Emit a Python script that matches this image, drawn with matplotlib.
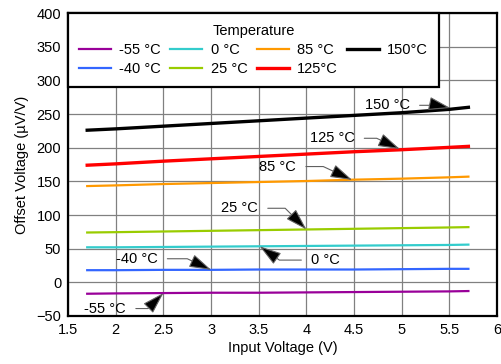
import matplotlib.pyplot as plt

plt.rcParams['font.family'] = ['Liberation Sans', 'DejaVu Sans']

vin = [1.7, 2.0, 2.5, 3.0, 3.5, 4.0, 4.5, 5.0, 5.5, 5.7]

temps = ['-55 °C', '-40 °C', '0 °C', '25 °C', '85 °C', '125°C', '150°C']
off_m55 = [-17, -16.5, -16, -15.5, -15.5, -15, -14.5, -14, -13.5, -13]
off_m40 = [18, 18, 18.5, 18.5, 19, 19, 19, 19.5, 20, 20]
off_0 = [52, 52, 52.5, 53, 53.5, 54, 54.5, 55, 55.5, 56]
off_25 = [74, 74.5, 75.5, 76.5, 77.5, 78.5, 79.5, 80.5, 81.5, 82]
off_85 = [143, 144, 146, 147.5, 149, 150.5, 152.5, 154, 156, 157]
off_125 = [174, 176, 180, 183.5, 187, 190.5, 194, 197, 200.5, 202]
off_150 = [226, 228, 232, 236, 240, 244, 248, 252, 257, 260]

series = [off_m55, off_m40, off_0, off_25, off_85, off_125, off_150]
colors = ['#990099', '#3366FF', '#33CCCC', '#99CC00', '#FF9900', '#FF0000', '#000000']
widths = [1.6, 1.6, 1.6, 1.6, 1.6, 2.4, 2.4]

fig = plt.figure(figsize=(5.01, 3.64), dpi=100)
ax = fig.add_axes([0.136, 0.132, 0.856, 0.832])

for lab, y, c, w in zip(temps, series, colors, widths):
    ax.plot(vin, y, color=c, lw=w, label=lab)

ax.set_xlim(1.5, 6)
ax.set_ylim(-50, 400)
ax.set_xticks([1.5, 2, 2.5, 3, 3.5, 4, 4.5, 5, 5.5, 6])
ax.set_xticklabels(['1.5', '2', '2.5', '3', '3.5', '4', '4.5', '5', '5.5', '6'])
ax.set_yticks(range(-50, 401, 50))
ax.grid(True, color='#808080', lw=0.9)
ax.tick_params(length=0, labelsize=10.5, pad=5)
for s in ax.spines.values():
    s.set_linewidth(1.6)
ax.set_xlabel('Input Voltage (V)', fontsize=10.5, labelpad=3)
ax.set_ylabel('Offset Voltage (µV/V)', fontsize=10.5, labelpad=5)

leg = ax.legend(title='Temperature', ncol=4, loc='upper left', bbox_to_anchor=(0, 1),
                borderaxespad=0, fontsize=10.5, title_fontsize=10.5, fancybox=False,
                framealpha=1, edgecolor='black', handlelength=2.2, columnspacing=0.65,
                handletextpad=0.55, borderpad=0.75, labelspacing=0.33)
leg.get_frame().set_linewidth(1.6)
leg.set_zorder(5)

# annotations: (text, text pos, arrow target, anchor side, approach angle)
notes = [
    ('150 °C', (4.85, 263), (5.51, 259), 'right', -12),
    ('125 °C', (4.27, 214), (4.98, 198), 'right', -25),
    ('85 °C', (3.70, 172), (4.48, 152), 'right', -25),
    ('25 °C', (3.30, 110), (4.0, 78.5), 'right', -45),
    ('0 °C', (4.20, 33), (3.51, 53.5), 'left', -35),
    ('-40 °C', (2.22, 35), (3.0, 18.5), 'right', -25),
    ('-55 °C', (1.89, -39), (2.5, -16), 'right', 45),
]
for txt, tpos, target, side, ang in notes:
    rel = (1, 0.5) if side == 'right' else (0, 0.5)
    ax.annotate(txt, xy=target, xytext=tpos, fontsize=10.5, ha='center', va='center',
                arrowprops=dict(arrowstyle='-|>,head_length=1.3,head_width=0.4',
                                lw=0.8, fc='black', ec='#606060',
                                relpos=rel, shrinkA=5, shrinkB=0,
                                connectionstyle='angle,angleA=0,angleB=%d,rad=0' % ang),
                zorder=4)

fig.savefig('out.png', dpi=100)
